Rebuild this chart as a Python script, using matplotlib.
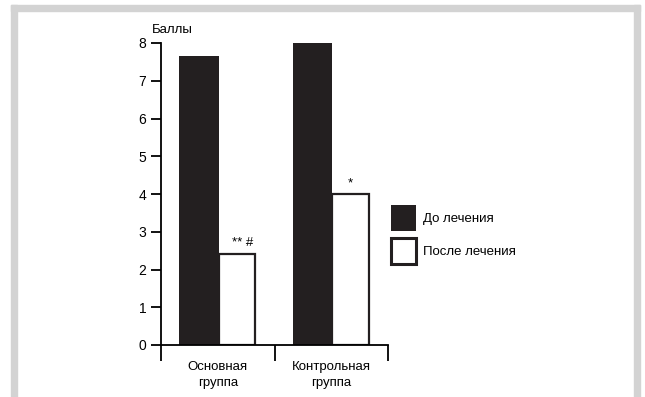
import matplotlib
matplotlib.use("Agg")
import matplotlib.pyplot as plt
from matplotlib.patches import Rectangle
import numpy as np

plt.rcParams['font.family'] = ['Liberation Sans', 'DejaVu Sans']

# data
groups = ['Основная\nгруппа', 'Контрольная\nгруппа']
before = [7.65, 8.0]
after = [2.4, 4.0]
marks = ['** #', '*']
series_names = ['До лечения', 'После лечения']
y_ticks = [0, 1, 2, 3, 4, 5, 6, 7, 8]

dark = '#231f20'
fig = plt.figure(figsize=(6.45, 3.97), dpi=100)

# gray frame (open at the bottom)
gray = '#d3d3d3'
fig.patches.append(Rectangle((11/645, 0), 6/645, 1 - 5/397, transform=fig.transFigure, color=gray, zorder=0))
fig.patches.append(Rectangle((634/645, 0), 6/645, 1 - 5/397, transform=fig.transFigure, color=gray, zorder=0))
fig.patches.append(Rectangle((11/645, 1 - 11/397), 629/645, 6/397, transform=fig.transFigure, color=gray, zorder=0))

ax = fig.add_axes([161/645, 1 - 345/397, 227/645, 302/397])
x = np.arange(len(groups))
ax.bar(x + 0.16, before, width=0.35, align='edge', color=dark, edgecolor=dark, linewidth=0, label=series_names[0])
ax.bar(x + 0.51, after, width=0.32, align='edge', color='white', edgecolor=dark, linewidth=1.6, label=series_names[1])

for xi, v, m in zip(x, after, marks):
    ax.text(xi + 0.67 + (0.05 if len(m) > 1 else 0), v + 0.13, m, ha='center', va='bottom', fontsize=9.5)

ax.set_xlim(0, 2)
ax.set_ylim(0, 8)
ax.set_yticks(y_ticks)
ax.set_xticks([0, 1, 2])
ax.set_xticklabels([])
ax.tick_params(axis='y', direction='out', length=7.5, width=1.3, labelsize=10, pad=3)
ax.tick_params(axis='x', direction='out', length=11.5, width=1.3)
for s in ['top', 'right']:
    ax.spines[s].set_visible(False)
for s in ['left', 'bottom']:
    ax.spines[s].set_linewidth(1.3)
ax.spines['left'].set_bounds(0, 8)
ax.set_facecolor('none')

for xi, g in zip(x, groups):
    ax.text(xi + 0.5, -0.42, g, ha='center', va='top', fontsize=9.5, linespacing=1.45)

fig.text(152/645, 1 - 33/397, 'Баллы', ha='left', va='baseline', fontsize=9.5)

leg = ax.legend(loc='upper left', bbox_to_anchor=(230/227, 140/302), frameon=False, fontsize=9.5,
                handlelength=1.9, handleheight=2.7, handletextpad=0.55, labelspacing=0.5,
                borderaxespad=0, borderpad=0)
leg.legend_handles[1].set_linewidth(2.2)

fig.savefig('out.png', dpi=100, facecolor='white')
